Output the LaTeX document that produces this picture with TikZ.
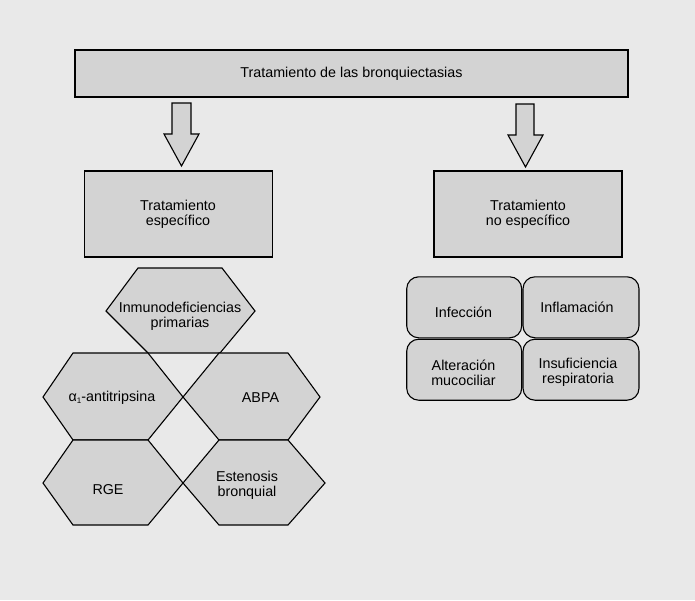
\documentclass[tikz,border=0pt]{standalone}
\usepackage{fontspec}
\setmainfont{Liberation Sans}
\begin{document}
\begin{tikzpicture}[x=1pt,y=-1pt,
  every node/.style={font=\fontsize{14.3}{14.6}\selectfont, align=center, inner sep=0pt},
  box/.style={draw=black, line width=1.1pt, fill=boxfill},
  rbox/.style={draw=black, line width=1.1pt, fill=boxfill, rounded corners=12pt},
  hexa/.style={draw=black, line width=1.1pt, fill=boxfill, line join=miter},
  arr/.style={draw=black, line width=1.1pt, fill=boxfill, line join=miter},
  lbl/.style={text=black}]
\definecolor{bgc}{RGB}{233,233,233}
\definecolor{boxfill}{RGB}{211,211,211}
\fill[bgc] (0,0) rectangle (695,600);
\useasboundingbox (0,0) rectangle (695,600);

% top box
\node[box, minimum width=553pt, minimum height=47pt] (top) at (351.5,73.5) {};
\node[lbl] (toplbl) at (351.5,74) {Tratamiento de las bronquiectasias};

% arrows
\draw[arr] (172,103) -- (191,103) -- (191,134) -- (199,134) -- (181.5,166) -- (164,134) -- (172,134) -- cycle;
\draw[arr] (516,104) -- (534,104) -- (534,135) -- (543,135) -- (525.5,167) -- (508,135) -- (516,135) -- cycle;

% second-level boxes
\node[box, minimum width=188pt, minimum height=86pt] (spec) at (178.8,214) {};
\node[lbl] (speclbl) at (178,214.5) {Tratamiento\\espec\'ifico};
\node[box, minimum width=188pt, minimum height=86pt] (nospec) at (528,214) {};
\node[lbl] (nospeclbl) at (528,214.5) {Tratamiento\\no espec\'ifico};

% hexagons
\draw[hexa] (138,268) -- (222,268) -- (255,311) -- (220,353) -- (148,353) -- (106,311) -- cycle;
\draw[hexa] (73,353) -- (148,353) -- (183,397) -- (148,440) -- (73,440) -- (43,397) -- cycle;
\draw[hexa] (219,353) -- (288,353) -- (320,397) -- (288,440) -- (219,440) -- (183,397) -- cycle;
\draw[hexa] (73,440) -- (148,440) -- (183,483) -- (148,525) -- (73,525) -- (43,483) -- cycle;
\draw[hexa] (219,440) -- (288,440) -- (325,483) -- (288,525) -- (219,525) -- (183,483) -- cycle;

\node[lbl] (inmuno) at (180,316) {Inmunodeficiencias\\primarias};
\node[lbl] (alfa) at (112,398) {α\raisebox{-0.25ex}{\fontsize{8}{8}\selectfont 1}-antitripsina};
\node[lbl] (abpa) at (260.5,398) {ABPA};
\node[lbl] (rge) at (108,490) {RGE};
\node[lbl] (esten) at (247,485) {Estenosis\\bronquial};

% rounded boxes
\node[rbox, minimum width=115pt, minimum height=61pt] (infb) at (464.2,307.3) {};
\node[rbox, minimum width=116pt, minimum height=61pt] (inflb) at (581,307.3) {};
\node[rbox, minimum width=115pt, minimum height=61pt] (altb) at (464.2,369.7) {};
\node[rbox, minimum width=116pt, minimum height=61pt] (insb) at (581,369.7) {};

\node[lbl] (inf) at (463.5,312.5) {Infecci\'on};
\node[lbl] (infl) at (577,307) {Inflamaci\'on};
\node[lbl] (alt) at (463.5,372.5) {Alteraci\'on\\mucociliar};
\node[lbl] (ins) at (578,372.5) {Insuficiencia\\respiratoria};
\end{tikzpicture}
\end{document}
